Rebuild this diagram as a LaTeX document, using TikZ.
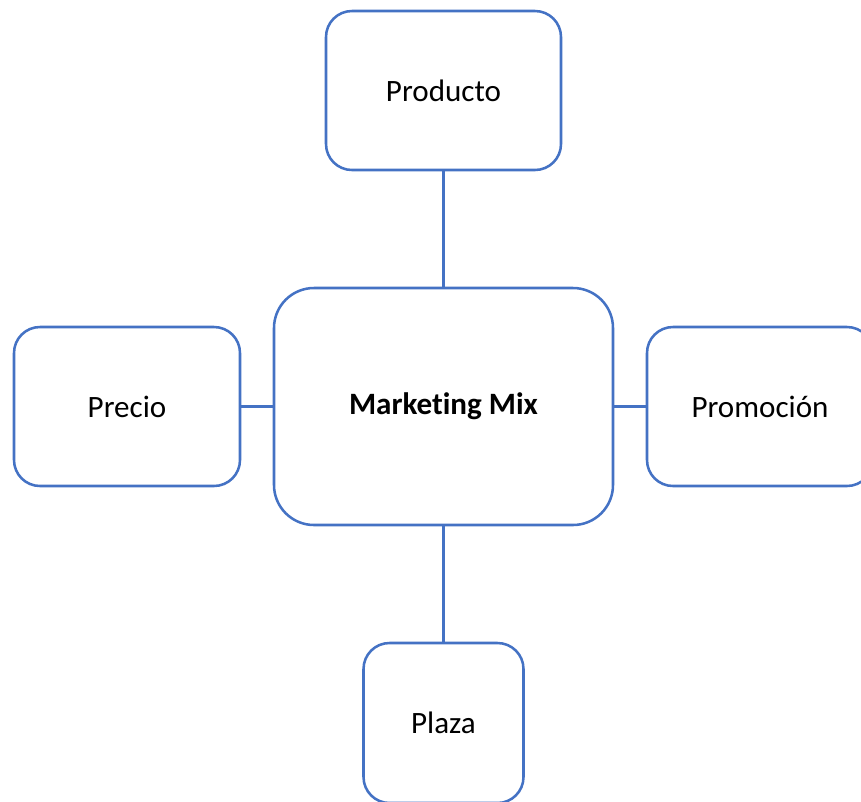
\documentclass[tikz,border=0pt]{standalone}
\usepackage{fontspec}
\setmainfont[Ligatures=NoCommon]{Carlito}
\begin{document}
\begin{tikzpicture}[x=0.75pt,y=-0.75pt,
  box/.style={draw=boxblue, line width=1.9pt, fill=white, rounded corners=19.5pt,
    inner sep=0pt, font=\fontsize{23.3}{27}\selectfont, text=black},
  link/.style={draw=boxblue, line width=1.9pt}]
\definecolor{boxblue}{HTML}{4472C4}
\useasboundingbox (0,0) rectangle (861,801);
\node[box, minimum width=176.25pt, minimum height=119.25pt] (prod) at (443.5,90.5) {Producto};
\node[box, minimum width=254.25pt, minimum height=177.75pt, rounded corners=30pt] (mm) at (443.5,406.5) {\bfseries Marketing Mix};
\node[box, minimum width=169.5pt, minimum height=119.25pt] (prec) at (127,406.5) {Precio};
\node[box, minimum width=169.5pt, minimum height=119.25pt] (prom) at (760,406.5) {Promoción};
\node[box, minimum width=120pt, minimum height=120pt] (plaza) at (443.5,723) {Plaza};
\draw[link] (prod.south) -- (mm.north);
\draw[link] (mm.south) -- (plaza.north);
\draw[link] (prec.east) -- (mm.west);
\draw[link] (mm.east) -- (prom.west);
\end{tikzpicture}
\end{document}
